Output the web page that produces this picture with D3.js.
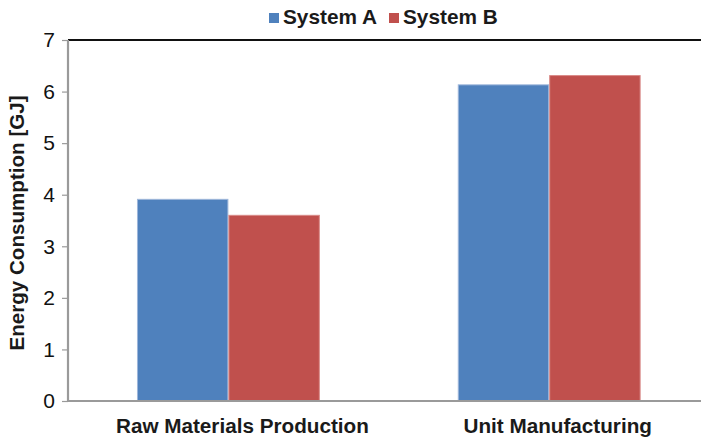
<!DOCTYPE html>
<html>
<head>
<meta charset="utf-8">
<script src="https://cdn.jsdelivr.net/npm/d3@7/dist/d3.min.js"></script>
<style>
  html, body { margin: 0; padding: 0; background: #fff; }
  svg { display: block; font-family: "Liberation Sans", Arial, sans-serif; }
</style>
</head>
<body>
<svg id="chart" width="701" height="438"></svg>
<script>
// Energy consumption per life-cycle stage, two systems compared
const categories = ["Raw Materials Production", "Unit Manufacturing"];
const seriesNames = ["System A", "System B"];
const systemA = [3.92, 6.14];
const systemB = [3.61, 6.32];
const yTicks = [0, 1, 2, 3, 4, 5, 6, 7];
const colors = ["#4F81BD", "#C0504D"];
const edgeColors = ["#9DB6DA", "#D98A88"];

const seriesValues = [systemA, systemB];
const rows = categories.map((c, i) => ({
  category: c,
  values: seriesNames.map((s, k) => ({ series: s, k, value: seriesValues[k][i] }))
}));

const svg = d3.select("#chart");
const plotLeft = 68, plotBottom = 401, plotTop = 40, plotRight = 709.6;
// category labels sit slightly right of their bar groups
const labelNudge = [14, 8.5];

const x = d3.scaleBand().domain(categories).range([plotLeft, plotRight])
  .paddingInner(0.43).paddingOuter(0.215);
const xs = d3.scaleBand().domain(seriesNames).range([0, x.bandwidth()]);
const y = d3.scaleLinear().domain([0, 7]).range([plotBottom, plotTop]);

// bars
const groups = svg.append("g").selectAll("g").data(rows).join("g")
  .attr("transform", d => `translate(${x(d.category)},0)`);
groups.selectAll("rect").data(d => d.values).join("rect")
  .attr("x", d => xs(d.series) + 0.5)
  .attr("y", d => y(d.value) + 0.5)
  .attr("width", xs.bandwidth() - 1)
  .attr("height", d => y(0) - y(d.value) - 0.5)
  .attr("fill", d => colors[d.k])
  .attr("stroke", d => edgeColors[d.k])
  .attr("stroke-width", 1);

// top frame line
svg.append("line")
  .attr("x1", plotLeft).attr("x2", 701).attr("y1", plotTop).attr("y2", plotTop)
  .attr("stroke", "#111").attr("stroke-width", 2);

// y axis
const yAxis = d3.axisLeft(y).tickValues(yTicks).tickFormat(d3.format("d"))
  .tickSize(6).tickPadding(7);
const gy = svg.append("g").attr("transform", `translate(${plotLeft},0)`).call(yAxis);
gy.select(".domain").attr("stroke", "#9a9a9a").attr("stroke-width", 2.2)
  .attr("d", `M0,${plotTop}V${plotBottom}`);
gy.selectAll(".tick line").attr("stroke", "#9a9a9a").attr("stroke-width", 1.2);
gy.selectAll(".tick text").attr("font-size", 21).attr("fill", "#111")
  .attr("font-family", "Liberation Sans, Arial, sans-serif");

// x axis
const xAxis = d3.axisBottom(x).tickSize(0).tickPadding(17);
const gx = svg.append("g").attr("transform", `translate(0,${plotBottom})`).call(xAxis);
gx.select(".domain").attr("stroke", "#9a9a9a").attr("stroke-width", 2.2)
  .attr("d", `M${plotLeft},0H701`);
gx.selectAll(".tick text").attr("font-size", 20.7).attr("font-weight", "bold")
  .attr("dx", (d, i) => labelNudge[i])
  .attr("fill", "#1a1a1a").attr("font-family", "Liberation Sans, Arial, sans-serif");

// y axis title
svg.append("text")
  .attr("transform", "translate(24,223) rotate(-90)")
  .attr("text-anchor", "middle")
  .attr("font-size", 20.6).attr("font-weight", "bold").attr("fill", "#1a1a1a")
  .text("Energy Consumption [GJ]");

// legend
const legendX = [269, 389];
const legend = svg.append("g").selectAll("g").data(seriesNames).join("g")
  .attr("transform", (d, i) => `translate(${legendX[i]},13)`);
legend.append("rect").attr("width", 10).attr("height", 10)
  .attr("fill", (d, i) => colors[i]);
legend.append("text").attr("x", 14).attr("y", 11)
  .attr("font-size", 20.8).attr("font-weight", "bold").attr("fill", "#1a1a1a")
  .text(d => d);
</script>
</body>
</html>
